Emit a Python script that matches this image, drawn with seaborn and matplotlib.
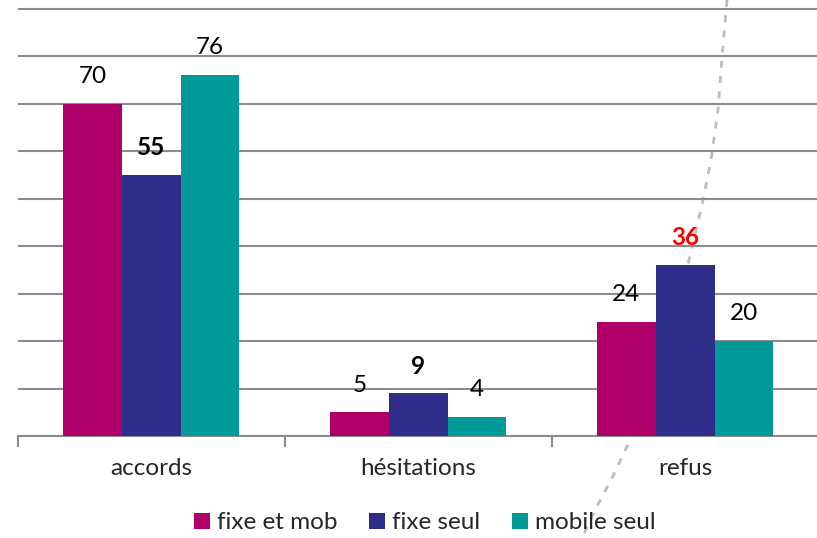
"""
Grouped bar chart: accords / hésitations / refus by phone equipment.
"""

import matplotlib.pyplot as plt
import pandas as pd
import seaborn as sns
from matplotlib.lines import Line2D

categories = ["accords", "hésitations", "refus"]
series = ["fixe et mob", "fixe seul", "mobile seul"]
fixe_et_mob = [70, 5, 24]
fixe_seul = [55, 9, 36]
mobile_seul = [76, 4, 20]
colors = ["#AF006A", "#2E2D8A", "#009A9A"]

# labels drawn bold (and red for the highlighted one)
bold_labels = {("fixe seul", "accords"): "black",
               ("fixe seul", "hésitations"): "black",
               ("fixe seul", "refus"): "#FF0000"}

df = pd.DataFrame({
    "categorie": categories * 3,
    "serie": [s for s in series for _ in categories],
    "valeur": fixe_et_mob + fixe_seul + mobile_seul,
})

sns.set_style("white")
plt.rcParams["font.family"] = ["Lato", "DejaVu Sans"]
FS = 17.5

fig = plt.figure(figsize=(8.17, 5.38), dpi=100)
ax = fig.add_axes([0.022, 0.1896, 0.98, 0.8104])
ax.set_facecolor("none")

# decorative dashed curve behind the chart
curve_px = [(727, 0), (722, 57), (718, 110), (711, 160), (702, 205), (692, 248),
            (679, 300), (663, 360), (646, 405), (630, 440), (612, 478),
            (594, 512), (582, 538)]
fig.add_artist(Line2D([x / 817 for x, _ in curve_px],
                      [1 - y / 538 for _, y in curve_px],
                      transform=fig.transFigure, color="#bdbdbd",
                      lw=2.0, ls=(0, (2.5, 3)), zorder=-1))

sns.barplot(data=df, x="categorie", y="valeur", hue="serie",
            hue_order=series, palette=colors, width=0.66,
            saturation=1, ax=ax, zorder=3, edgecolor="none")

for container, name in zip(ax.containers, series):
    for bar, cat in zip(container, categories):
        h = bar.get_height()
        key = (name, cat)
        weight = "bold" if key in bold_labels else "normal"
        color = bold_labels.get(key, "black")
        ax.annotate(f"{h:.0f}", (bar.get_x() + bar.get_width() / 2, h),
                    xytext=(0, 19.5), textcoords="offset points",
                    ha="center", va="center", fontsize=FS,
                    fontweight=weight, color=color)

ax.set_ylim(0, 91.8)
ax.set_xlim(-0.5, 2.5)
ax.set_yticks(range(0, 91, 10))
ax.yaxis.grid(True, color="#8c8c8c", lw=1.5, zorder=0)
ax.set_axisbelow(True)
ax.tick_params(axis="y", left=False, labelleft=False)

ax.set_xticks([-0.5, 0.5, 1.5, 2.5], minor=False)
ax.set_xticklabels([])
ax.set_xticks([0, 1, 2], minor=True)
ax.set_xticklabels(categories, minor=True, fontsize=FS)
ax.tick_params(axis="x", which="major", bottom=True, length=8, width=1.5,
               color="#8c8c8c")
ax.tick_params(axis="x", which="minor", bottom=False, pad=14)

for side in ["top", "right", "left"]:
    ax.spines[side].set_visible(False)
ax.spines["bottom"].set_color("#8c8c8c")
ax.spines["bottom"].set_linewidth(1.5)
ax.set(xlabel="", ylabel="")

handles, labels = ax.get_legend_handles_labels()
ax.legend_.remove()
fig.legend(handles, labels, loc="center", bbox_to_anchor=(0.52, 0.028),
           ncol=3, frameon=False, fontsize=FS, handlelength=0.65,
           handleheight=0.65, handletextpad=0.3, columnspacing=1.3)

fig.savefig("out.png", dpi=100)
